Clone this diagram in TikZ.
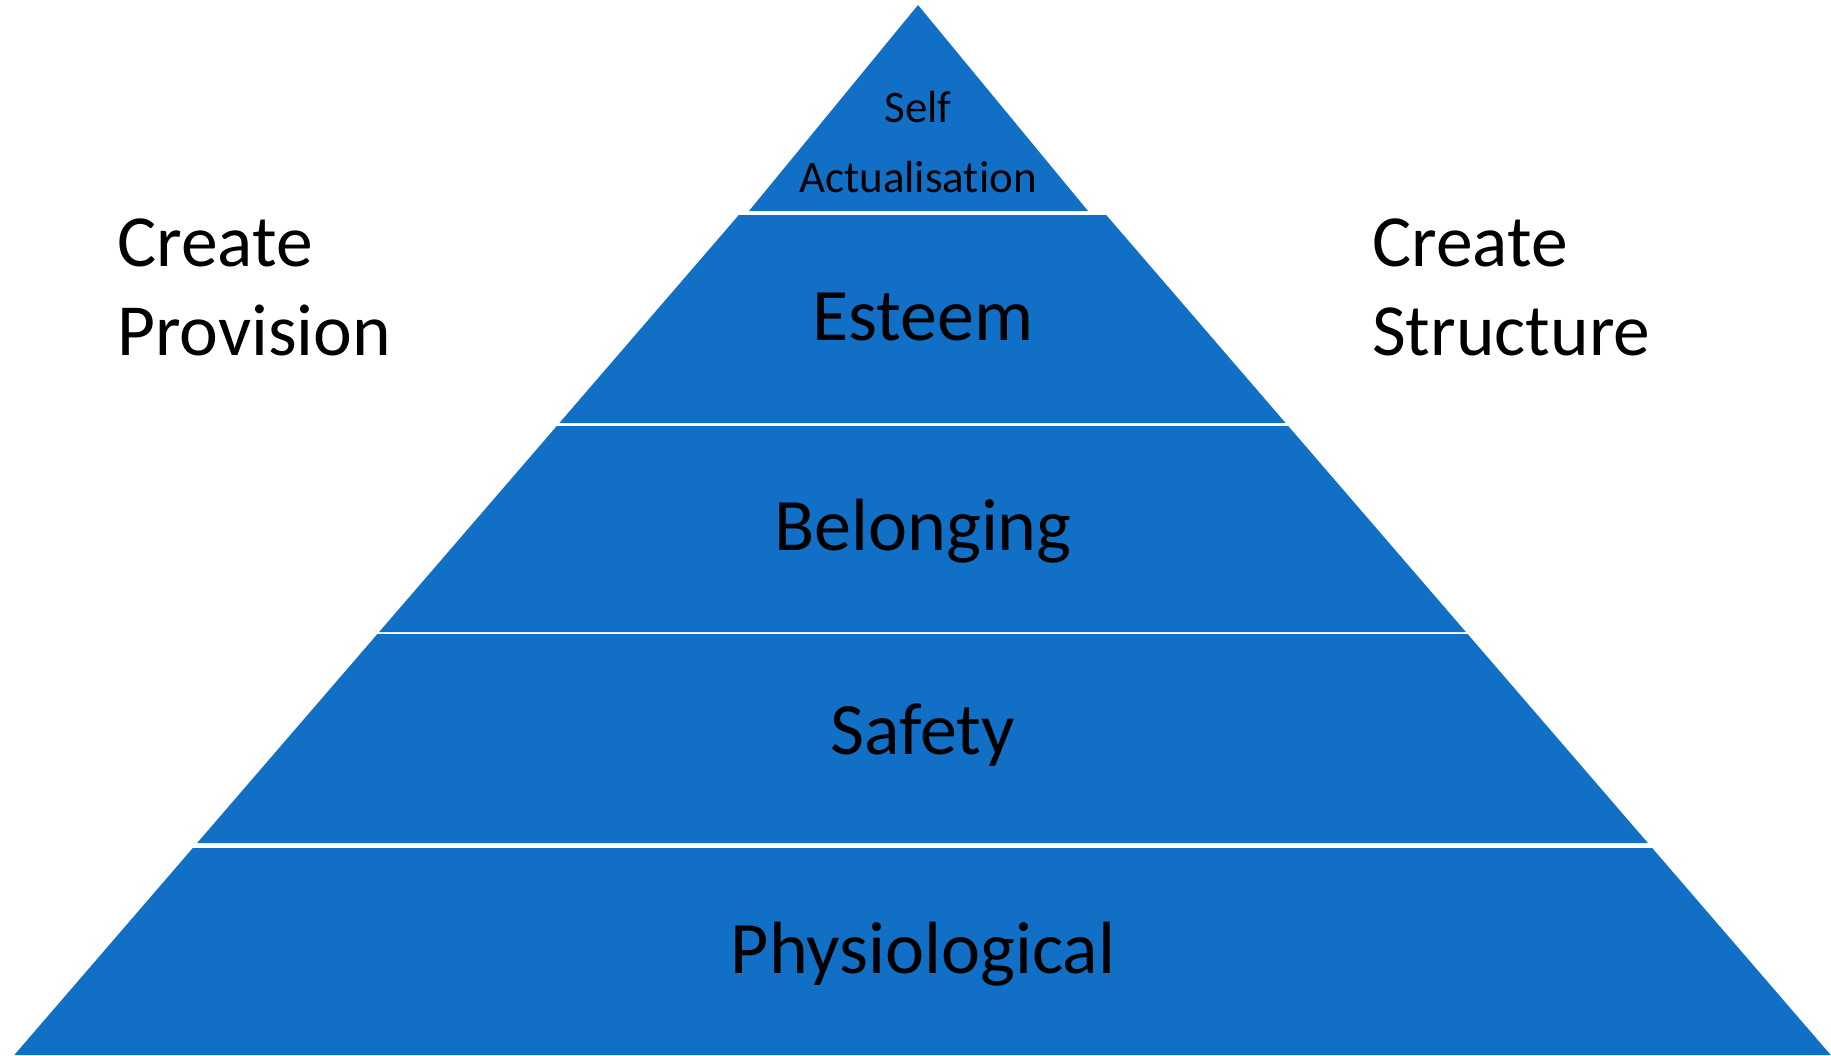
\documentclass[tikz,border=0pt]{standalone}
\usepackage{fontspec}
\setmainfont{Carlito}[Ligatures=NoCommon]
\definecolor{pyrblue}{RGB}{17,112,197}
\tikzset{
  layer/.style={fill=pyrblue},
  levellabel/.style={inner sep=0pt, anchor=base, font=\fontsize{74}{88}\selectfont},
  toplabel/.style={inner sep=0pt, anchor=base, align=center, font=\fontsize{45}{70}\selectfont},
  sidelabel/.style={inner sep=0pt, anchor=base west, align=left, font=\fontsize{73.5}{89}\selectfont},
}
\begin{document}
\begin{tikzpicture}[x=1pt, y=-1pt]
\useasboundingbox (0,0) rectangle (1831,1055);
% top of the pyramid
\fill[layer] (918,5) -- (1088,211) -- (749,211) -- cycle;
\node[toplabel] (selfact) at (918,192) {Self\\Actualisation};
% the four lower layers
\foreach \ytop/\ybot/\name/\txt/\ybase in {215/423/esteem/Esteem/340,
    426/632/belonging/Belonging/550, 634/843/safety/Safety/754,
    848/1055/physio/Physiological/973} {
  \fill[layer] ({922.5-0.8625*(\ytop-2)},\ytop) -- ({922.5+0.8625*(\ytop-2)},\ytop)
    -- ({922.5+0.8625*(\ybot-2)},\ybot) -- ({922.5-0.8625*(\ybot-2)},\ybot) -- cycle;
  \node[levellabel] (\name) at (923,\ybase) {\txt};
}
\node[sidelabel] (provision) at (117,355) {Create\\Provision};
\node[sidelabel] (structure) at (1372,355) {Create\\Structure};
\end{tikzpicture}
\end{document}
